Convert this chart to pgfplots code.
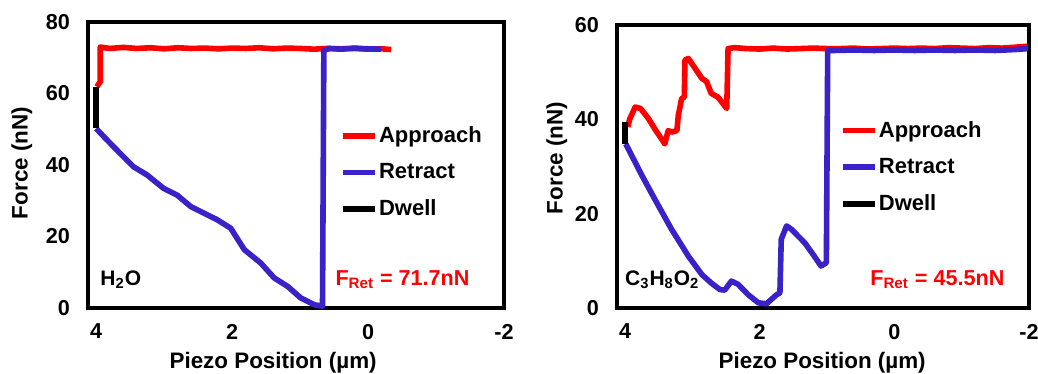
\documentclass[border=0pt]{standalone}
\usepackage{pgfplots}
\pgfplotsset{compat=1.18}
\usepackage{fontspec}
\setmainfont{Liberation Sans}
\definecolor{appr}{RGB}{255,0,0}
\definecolor{retr}{RGB}{58,34,200}
\pgfplotsset{
  fcstyle/.style={
    scale only axis,
    x dir=reverse,
    xmin=-2, xmax=4.12,
    ymin=0,
    xtick={-2,0,2,4},
    axis line style={line width=2pt},
    major tick length=0pt,
    clip=false,
    /pgf/number format/assume math mode=true,
    ticklabel style={font=\fontsize{10.8}{12}\selectfont\bfseries},
    xticklabel style={yshift=-4.5pt},
    yticklabel style={xshift=-5.5pt},
    label style={font=\fontsize{11.2}{13}\selectfont\bfseries},
    xlabel={Piezo Position (µm)},
    ylabel={Force (nN)},
    legend cell align=left,
    legend style={draw=none, fill=none, anchor=north west,
      font=\fontsize{11}{12}\selectfont\bfseries,
      row sep=8pt, inner sep=0pt,
      nodes={inner sep=0.5pt}},
    legend image code/.code={\draw[#1, line width=2.8pt] (0pt,0pt) -- (16pt,0pt);},
    every axis plot/.append style={line width=2.8pt, line join=round},
  }
}
\begin{document}
\begin{tikzpicture}[x=1pt,y=1pt]
\useasboundingbox (0,0) rectangle (519,187);
\begin{axis}[fcstyle, at={(44pt,33pt)}, anchor=south west,
  width=208pt, height=143pt, ymax=80, ytick={0,20,40,60,80},
  xlabel style={at={(axis description cs:0.445,-0.19)}, anchor=center},
  ylabel style={at={(axis description cs:-0.159,0.507)}, anchor=center, rotate=0},
  legend style={at={(rel axis cs:0.606,0.64)}}]
\addplot[appr] coordinates {
(3.99,61.9) (3.94,63.3) (3.94,73.0) (3.8,72.6) (3.6,72.9) (3.4,72.6) (3.2,72.8)
(3.0,72.5) (2.8,72.8) (2.6,72.6) (2.4,72.7) (2.2,72.5) (2.0,72.7) (1.8,72.6)
(1.6,72.8) (1.4,72.5) (1.2,72.7) (1.0,72.6) (0.8,72.4) (0.6,72.6) (0.4,72.5)
(0.2,72.6) (0.0,72.4) (-0.2,72.5) (-0.34,72.3)};
\addlegendentry{Approach}
\addplot[retr] coordinates {
(4.0,50.2) (3.84,47.0) (3.65,43.3) (3.45,39.5) (3.25,37.2) (3.01,33.5) (2.81,31.6)
(2.61,28.4) (2.41,26.5) (2.22,24.7) (2.02,22.3) (1.82,16.3) (1.58,12.6) (1.38,8.4)
(1.18,6.0) (0.99,2.8) (0.79,0.9) (0.67,0.5) (0.65,72.1) (0.57,72.6) (0.4,72.4)
(0.2,72.7) (0.0,72.5) (-0.19,72.4)};
\addlegendentry{Retract}
\addplot[black] coordinates {(4.0,61.8) (4.0,50.3)};
\addlegendentry{Dwell}
\node[anchor=west, font=\fontsize{10.5}{12}\selectfont\bfseries, inner sep=0pt]
  at (rel axis cs:0.029,0.098) {H\textsubscript{2}O};
\node[anchor=west, text=appr, font=\fontsize{10.8}{12}\selectfont\bfseries, inner sep=0pt]
  at (rel axis cs:0.594,0.098) {F\textsubscript{Ret} = 71.7nN};
\end{axis}
\begin{axis}[fcstyle, at={(308.5pt,33pt)}, anchor=south west,
  width=206pt, height=141.5pt, ymax=60, ytick={0,20,40,60},
  xlabel style={at={(axis description cs:0.498,-0.194)}, anchor=center},
  ylabel style={at={(axis description cs:-0.146,0.53)}, anchor=center, rotate=0},
  legend style={at={(rel axis cs:0.541,0.665)}}]
\addplot[appr] coordinates {
(3.96,38.4) (3.93,40.1) (3.85,42.6) (3.77,42.3) (3.65,40.1) (3.56,38.0) (3.41,34.8)
(3.36,37.6) (3.31,37.3) (3.23,37.6) (3.21,40.8) (3.16,44.4) (3.12,44.7) (3.11,52.6)
(3.06,52.9) (2.96,50.8) (2.86,48.7) (2.79,48.0) (2.72,45.5) (2.62,44.7) (2.49,42.3)
(2.47,55.0) (2.37,55.2) (2.2,55.0) (2.0,54.9) (1.8,55.1) (1.6,54.9) (1.4,55.0)
(1.2,55.1) (1.0,55.0) (0.8,55.0) (0.6,55.1) (0.4,54.9) (0.2,55.0) (0.0,55.1)
(-0.2,55.0) (-0.4,55.1) (-0.6,55.0) (-0.8,55.2) (-1.0,55.1) (-1.2,55.0) (-1.4,55.2)
(-1.6,55.1) (-1.8,55.3) (-1.98,55.5)};
\addlegendentry{Approach}
\addplot[retr] coordinates {
(3.99,34.8) (3.75,28.1) (3.56,23.1) (3.31,16.7) (3.06,11.0) (2.86,7.1) (2.72,5.3)
(2.59,3.9) (2.52,3.8) (2.42,5.7) (2.32,5.0) (2.17,2.8) (2.02,1.1) (1.90,0.9)
(1.75,2.8) (1.70,3.2) (1.68,14.6) (1.60,17.4) (1.53,16.7) (1.33,13.8) (1.19,11.0)
(1.09,8.9) (1.01,9.6) (0.99,54.6) (0.89,54.6) (0.6,54.7) (0.3,54.6) (0.0,54.7)
(-0.3,54.6) (-0.6,54.7) (-0.9,54.6) (-1.2,54.7) (-1.5,54.6) (-1.8,54.8) (-1.98,55.0)};
\addlegendentry{Retract}
\addplot[black] coordinates {(4.0,39.4) (4.0,34.8)};
\addlegendentry{Dwell}
\node[anchor=west, font=\fontsize{10.5}{12}\selectfont\bfseries, inner sep=0pt]
  at (rel axis cs:0.019,0.099) {C\textsubscript{3}H\textsubscript{8}O\textsubscript{2}};
\node[anchor=west, text=appr, font=\fontsize{10.8}{12}\selectfont\bfseries, inner sep=0pt]
  at (rel axis cs:0.614,0.099) {F\textsubscript{Ret} = 45.5nN};
\end{axis}
\end{tikzpicture}
\end{document}
